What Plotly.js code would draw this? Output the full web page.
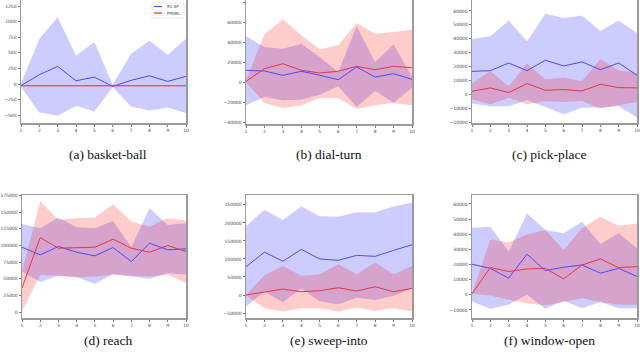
<!DOCTYPE html>
<html>
<head>
<meta charset="utf-8">
<script src="https://cdn.plot.ly/plotly-3.0.1.min.js"></script>
<style>
    html, body { margin: 0; padding: 0; background: #fff; }
    #chart { width: 640px; height: 356px; }
</style>
</head>
<body>
<div id="chart"></div>
<script>
const steps = [1, 2, 3, 4, 5, 6, 7, 8, 9, 10];
const legendNames = ['R1:SP', 'PPAML'];

// (a) basket-ball
const basketBlue   = [-25, 150, 283, 53, 112, -37, 59, 133, 43, 123];
const basketBlueHi = [10, 720, 1071, 453, 672, -10, 480, 693, 469, 725];
const basketBlueLo = [-48, -453, -506, -346, -437, -48, -357, -421, -373, -464];
const basketRed    = [-27, -27, -27, -27, -27, -27, -27, -27, -27, -27];
const basketRedHi  = [-20, -20, -20, -20, -20, -20, -20, -20, -20, -20];
const basketRedLo  = [-34, -34, -34, -34, -34, -34, -34, -34, -34, -34];

// (b) dial-turn
const dialBlue   = [11700, 11000, 6700, 10700, 6700, 2300, 15000, 5000, 8300, 2700];
const dialBlueHi = [45700, 35000, 33300, 38300, 25000, 10000, 55700, 20000, 37700, 5000];
const dialBlueLo = [-23300, -15000, -18300, -17700, -12700, -4300, -25000, -9000, -20700, -5700];
const dialRed    = [700, 13300, 18300, 11700, 9000, 10700, 15700, 12300, 15700, 14300];
const dialRedHi  = [1700, 47700, 62700, 46700, 32700, 36700, 59000, 48300, 50000, 52300];
const dialRedLo  = [0, -21000, -26000, -23300, -16000, -16000, -27000, -23300, -21000, -23300];

// (c) pick-place
const pickBlue   = [16500, 17000, 22500, 17000, 24500, 20400, 23300, 17700, 22500, 13700];
const pickBlueHi = [39800, 41700, 53200, 38100, 58000, 54900, 56800, 45600, 53200, 44100];
const pickBlueLo = [-6700, -8600, -8600, -4300, -9100, -14400, -9800, -9600, -8600, -16800];
const pickRed    = [2200, 4600, 1200, 7700, 2900, 3400, 2400, 7200, 4800, 4600];
const pickRedHi  = [7700, 16800, 5800, 22100, 10800, 12000, 9600, 25200, 17300, 15300];
const pickRedLo  = [-3600, -7400, -2600, -7200, -5000, -5500, -4800, -10300, -7900, -5500];

// (d) reach
const reachBlue   = [97500, 86000, 98500, 90000, 84500, 97000, 76000, 103500, 93500, 95000];
const reachBlueHi = [132500, 126000, 142000, 127500, 126000, 137000, 97500, 156000, 131000, 133500];
const reachBlueLo = [61000, 45000, 54500, 52500, 42000, 57000, 53500, 50000, 58500, 56000];
const reachRed    = [36000, 112000, 96000, 97000, 97500, 109500, 96000, 90000, 100000, 91000];
const reachRedHi  = [60000, 167000, 138500, 141000, 142000, 162000, 136000, 128500, 141000, 137500];
const reachRedLo  = [1000, 56000, 54500, 52000, 53500, 56000, 54500, 53500, 56000, 43500];

// (e) sweep-into
const sweepBlue   = [78000, 119000, 93600, 126600, 100000, 96300, 110000, 107300, 123900, 139400];
const sweepBlueHi = [190800, 236700, 208300, 245900, 218300, 217400, 229400, 229400, 245900, 256900];
const sweepBlueLo = [-32100, 9200, -20200, 18300, -18300, -25700, -7300, -13800, -1800, 18300];
const sweepRed    = [0, 8300, 16500, 9200, 11900, 20200, 11000, 22900, 9200, 18300];
const sweepRedHi  = [0, 55000, 80700, 53200, 57800, 85300, 57800, 89900, 57800, 80700];
const sweepRedLo  = [0, -36700, -45900, -36700, -36700, -45900, -34900, -44000, -36700, -45900];

// (f) window-open
const windowBlue   = [20200, 17500, 11000, 26800, 16000, 18200, 19700, 14300, 17500, 12100];
const windowBlueHi = [44300, 45000, 28500, 53700, 42800, 40600, 48200, 33600, 40600, 30700];
const windowBlueLo = [-4400, -9200, -6600, 0, -9200, -3900, -8800, -4800, -8800, -8800];
const windowRed    = [700, 18000, 15400, 17100, 17500, 10500, 19700, 23700, 18000, 18600];
const windowRedHi  = [700, 36600, 34600, 39900, 42800, 29600, 43900, 51500, 45600, 47100];
const windowRedLo  = [700, -400, -3300, -5500, -7000, -4400, -2200, -4800, -6600, -6600];

const W = 640, H = 356;
const px = v => v / W;
const py = v => 1 - v / H;

const BLUE = '#4a4aff', RED = '#e8344a';
const BLUE_BAND = 'rgba(0,0,255,0.2)', RED_BAND = 'rgba(255,0,0,0.2)';

const panels = [
    {title: '(a) basket-ball', blue: [basketBlue, basketBlueHi, basketBlueLo], red: [basketRed, basketRedHi, basketRedLo],
     range: [-623, 1346], dtick: 250, box: [21, 186, 0, 123], cap: [108, 154]},
    {title: '(b) dial-turn', blue: [dialBlue, dialBlueHi, dialBlueLo], red: [dialRed, dialRedHi, dialRedLo],
     range: [-42000, 82000], dtick: 20000, box: [246, 412, 0, 124], cap: [329, 154]},
    {title: '(c) pick-place', blue: [pickBlue, pickBlueHi, pickBlueLo], red: [pickRed, pickRedHi, pickRedLo],
     range: [-20700, 67900], dtick: 10000, box: [472, 637, 0, 123], cap: [549, 154]},
    {title: '(d) reach', blue: [reachBlue, reachBlueHi, reachBlueLo], red: [reachRed, reachRedHi, reachRedLo],
     range: [-9000, 176000], dtick: 25000, box: [22, 186, 195, 318], cap: [108, 340]},
    {title: '(e) sweep-into', blue: [sweepBlue, sweepBlueHi, sweepBlueLo], red: [sweepRed, sweepRedHi, sweepRedLo],
     range: [-63800, 277500], dtick: 50000, box: [246, 412, 195, 318], cap: [329, 340]},
    {title: '(f) window-open', blue: [windowBlue, windowBlueHi, windowBlueLo], red: [windowRed, windowRedHi, windowRedLo],
     range: [-15300, 65900], dtick: 10000, box: [472, 637, 195, 318], cap: [549, 340]}
];

const traces = [];
const layout = {
    width: W, height: H,
    margin: {l: 0, r: 0, t: 0, b: 0},
    paper_bgcolor: '#fff',
    plot_bgcolor: '#fff',
    showlegend: false,
    font: {family: 'DejaVu Sans', size: 4.5, color: '#444'},
    annotations: [],
    shapes: []
};

panels.forEach((p, i) => {
    const n = i === 0 ? '' : String(i + 1);
    const xa = 'x' + n, ya = 'y' + n;

    // shaded band: upper edge, then lower edge filled up to it
    function band(vals, bandColor) {
        traces.push({x: steps, y: vals[1], xaxis: xa, yaxis: ya, mode: 'lines',
            line: {width: 0}, hoverinfo: 'skip'});
        traces.push({x: steps, y: vals[2], xaxis: xa, yaxis: ya, mode: 'lines',
            line: {width: 0}, fill: 'tonexty', fillcolor: bandColor, hoverinfo: 'skip'});
    }
    band(p.blue, BLUE_BAND);
    band(p.red, RED_BAND);
    traces.push({x: steps, y: p.blue[0], xaxis: xa, yaxis: ya, mode: 'lines',
        name: legendNames[0], line: {color: BLUE, width: 1}});
    traces.push({x: steps, y: p.red[0], xaxis: xa, yaxis: ya, mode: 'lines',
        name: legendNames[1], line: {color: RED, width: 1}});

    const [x0, x1, y0, y1] = p.box;
    const axisCommon = {
        showgrid: false, zeroline: false,
        showline: true, mirror: true, linecolor: '#9a9a9a', linewidth: 1.5,
        ticks: 'outside', ticklen: 2, tickwidth: 0.8, tickcolor: '#555',
        tickfont: {family: 'DejaVu Sans', size: 4.5, color: '#444'}
    };
    layout['xaxis' + n] = Object.assign({}, axisCommon, {
        domain: [px(x0), px(x1)], anchor: ya, range: [1, 10], dtick: 1, tick0: 1
    });
    layout['yaxis' + n] = Object.assign({}, axisCommon, {
        domain: [py(y1), py(y0)], anchor: xa, range: p.range, dtick: p.dtick,
        tickformat: 'd', exponentformat: 'none'
    });

    layout.annotations.push({
        text: p.title, xref: 'paper', yref: 'paper', x: px(p.cap[0]), y: py(p.cap[1]),
        xanchor: 'center', yanchor: 'middle', showarrow: false,
        font: {family: 'Liberation Serif', size: 13.5, color: '#111'}
    });
});

// legend box inside panel (a)
layout.shapes.push({type: 'rect', xref: 'paper', yref: 'paper',
    x0: px(152), x1: px(184), y0: py(18), y1: py(3),
    line: {color: '#dddddd', width: 0.6}, fillcolor: 'rgba(255,255,255,0.9)'});
layout.shapes.push({type: 'line', xref: 'paper', yref: 'paper',
    x0: px(154), x1: px(162), y0: py(6.5), y1: py(6.5), line: {color: BLUE, width: 1.2}});
layout.shapes.push({type: 'line', xref: 'paper', yref: 'paper',
    x0: px(154), x1: px(162), y0: py(13), y1: py(13), line: {color: '#f08080', width: 2}});
legendNames.forEach((nm, k) => {
    layout.annotations.push({
        text: nm, xref: 'paper', yref: 'paper', x: px(165), y: py(k === 0 ? 6.5 : 13),
        xanchor: 'left', yanchor: 'middle', showarrow: false,
        font: {family: 'DejaVu Sans', size: 4, color: '#444'}
    });
});

Plotly.newPlot('chart', traces, layout, {staticPlot: true, displayModeBar: false});
</script>
</body>
</html>
